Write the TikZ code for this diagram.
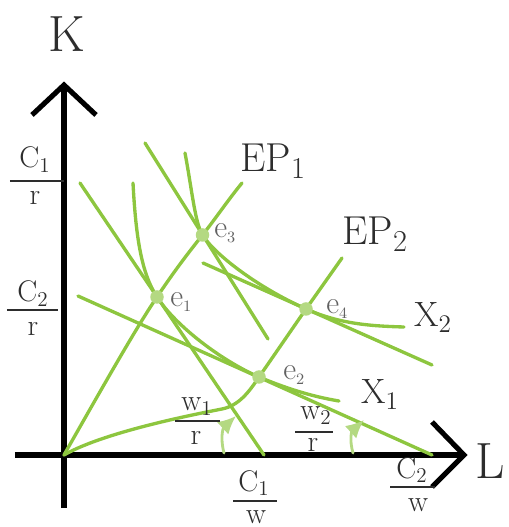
\documentclass[tikz,border=0pt]{standalone}
\usetikzlibrary{arrows.meta}
\definecolor{leaf}{RGB}{141,198,63}
\definecolor{leaflight}{RGB}{180,217,130}
\definecolor{ink}{RGB}{45,45,45}
\begin{document}
\begin{tikzpicture}[line cap=round,
		axis/.style={line width=2.9pt, line cap=butt},
		axistip/.style={line width=2.9pt, line cap=butt, line join=miter},
		leafline/.style={line width=1.9pt, leaf},
		turn/.style={line width=1.6pt, leaflight, -{Latex[length=0.36cm, width=0.34cm]}},
		eq/.style={circle, fill=leaflight, inner sep=0pt, minimum size=0.27cm},
		eqlab/.style={font=\fontsize{18}{20}\selectfont, text=ink!75, anchor=base west, inner sep=0pt},
		pathlab/.style={font=\fontsize{23}{26}\selectfont, text=ink, anchor=base west, inner sep=0pt},
		qlab/.style={font=\fontsize{20}{24}\selectfont, text=ink, anchor=base west, inner sep=0pt},
		axlab/.style={font=\fontsize{29}{32}\selectfont, text=ink, anchor=base, inner sep=0pt},
		fr/.style={font=\fontsize{17}{20}\selectfont, text=ink, anchor=base, inner sep=0pt},
		bar/.style={line width=1.1pt, ink, line cap=butt}]
	\useasboundingbox (-1.28,-1.44) rectangle (8.88,9.10);

	% 坐标轴 K、L
	\coordinate (O) at (0,0);
	\coordinate (Ktip) at (0,7.40);
	\coordinate (Ltip) at (8.00,0);
	\draw[axis] (0,-1.06) -- (Ktip);
	\draw[axis] (-0.98,0) -- (Ltip);
	\draw[axistip] (-0.64,6.80) -- (Ktip) -- (0.64,6.80);
	\draw[axistip] (7.36,0.66) -- (Ltip) -- (7.36,-0.64);
	\node[axlab] (K) at (0.05,8.06) {K};
	\node[axlab] (L) at (8.53,-0.48) {L};

	% 轴上截距 C/r、C/w
	\node[fr] (c1rn) at (-0.58,5.74) {C$_1$};
	\node[fr] (c1rd) at (-0.58,5.00) {r};
	\draw[bar] (-1.08,5.48) -- (0,5.48);
	\node[fr] (c2rn) at (-0.62,3.06) {C$_2$};
	\node[fr] (c2rd) at (-0.62,2.38) {r};
	\draw[bar] (-1.14,2.90) -- (-0.12,2.90);
	\node[fr] (c1wn) at (3.80,-0.72) {C$_1$};
	\node[fr] (c1wd) at (3.84,-1.37) {w};
	\draw[bar] (3.38,-0.92) -- (4.26,-0.92);
	\node[fr] (c2wn) at (6.96,-0.46) {C$_2$};
	\node[fr] (c2wd) at (7.08,-1.14) {w};
	\draw[bar] (6.52,-0.64) -- (7.42,-0.64);

	% 等成本线
	\coordinate (p1) at (0.32,5.44); \coordinate (q1) at (4.00,0);
	\coordinate (p2) at (0.28,3.18); \coordinate (q2) at (7.36,0);
	\coordinate (p3) at (1.62,6.24); \coordinate (q3) at (4.08,2.32);
	\coordinate (p4) at (2.78,3.84); \coordinate (q4) at (7.36,1.80);
	\draw[leafline] (p1) -- (q1);
	\draw[leafline] (p2) -- (q2);
	\draw[leafline] (p3) -- (q3);
	\draw[leafline] (p4) -- (q4);

	% 均衡点
	\coordinate (E1) at (1.86,3.16);
	\coordinate (E2) at (3.90,1.56);
	\coordinate (E3) at (2.77,4.40);
	\coordinate (E4) at (4.84,2.92);

	% 等产量线 X1、X2
	\coordinate (x1top) at (1.38,5.44); \coordinate (x1end) at (5.50,1.08);
	\coordinate (x2top) at (2.42,6.04); \coordinate (x2end) at (6.80,2.56);
	\draw[leafline] (x1top) .. controls (1.44,4.30) and (1.56,3.62) .. (E1)
		.. controls (2.22,2.60) and (3.12,1.90) .. (E2)
		.. controls (4.52,1.30) and (5.02,1.16) .. (x1end);
	\draw[leafline] (x2top) .. controls (2.56,5.30) and (2.62,4.64) .. (E3)
		.. controls (3.00,4.03) and (3.82,3.38) .. (E4)
		.. controls (5.52,2.62) and (6.12,2.58) .. (x2end);

	% 扩展线 EP1、EP2
	\coordinate (ep1end) at (3.56,5.44);
	\coordinate (ep2end) at (5.56,3.94);
	\draw[leafline] (O) .. controls (1.02,1.80) and (1.52,2.66) .. (E1)
		.. controls (2.22,3.70) and (2.50,4.06) .. (E3)
		.. controls (3.04,4.74) and (3.28,5.10) .. (ep1end);
	\draw[leafline] (O) .. controls (0.52,0.30) and (1.60,0.62) .. (3.16,0.92)
		.. controls (3.50,0.99) and (3.70,1.26) .. (E2)
		.. controls (4.22,2.02) and (4.52,2.46) .. (E4)
		.. controls (5.08,3.26) and (5.32,3.60) .. (ep2end);

	% 斜率 w/r
	\coordinate (t1) at (3.20,0.04); \coordinate (h1) at (3.44,0.78);
	\coordinate (t2) at (5.78,0.04); \coordinate (h2) at (6.00,0.70);
	\draw[turn] (t1) .. controls (3.12,0.34) and (3.18,0.54) .. (h1);
	\draw[turn] (t2) .. controls (5.70,0.32) and (5.76,0.48) .. (h2);
	\node[fr] (w1n) at (2.66,0.88) {w$_1$};
	\node[fr] (w1d) at (2.64,0.20) {r};
	\draw[bar] (2.22,0.68) -- (3.12,0.68);
	\node[fr] (w2n) at (5.04,0.70) {w$_2$};
	\node[fr] (w2d) at (4.98,0.06) {r};
	\draw[bar] (4.62,0.46) -- (5.38,0.46);

	% 点与标注
	\node[eq] (e1) at (E1) {};
	\node[eq] (e2) at (E2) {};
	\node[eq] (e3) at (E3) {};
	\node[eq] (e4) at (E4) {};
	\node[eqlab] (e1lab) at (2.12,2.96) {e$_{\scriptscriptstyle 1}$};
	\node[eqlab] (e2lab) at (4.38,1.50) {e$_{\scriptscriptstyle 2}$};
	\node[eqlab] (e3lab) at (3.00,4.34) {e$_{\scriptscriptstyle 3}$};
	\node[eqlab] (e4lab) at (5.24,2.82) {e$_{\scriptscriptstyle 4}$};
	\node[pathlab] (ep1lab) at (3.52,5.66) {EP$_1$};
	\node[pathlab] (ep2lab) at (5.56,4.20) {EP$_2$};
	\node[qlab] (x1lab) at (5.94,1.02) {X$_1$};
	\node[qlab] (x2lab) at (7.00,2.56) {X$_2$};
\end{tikzpicture}
\end{document}
